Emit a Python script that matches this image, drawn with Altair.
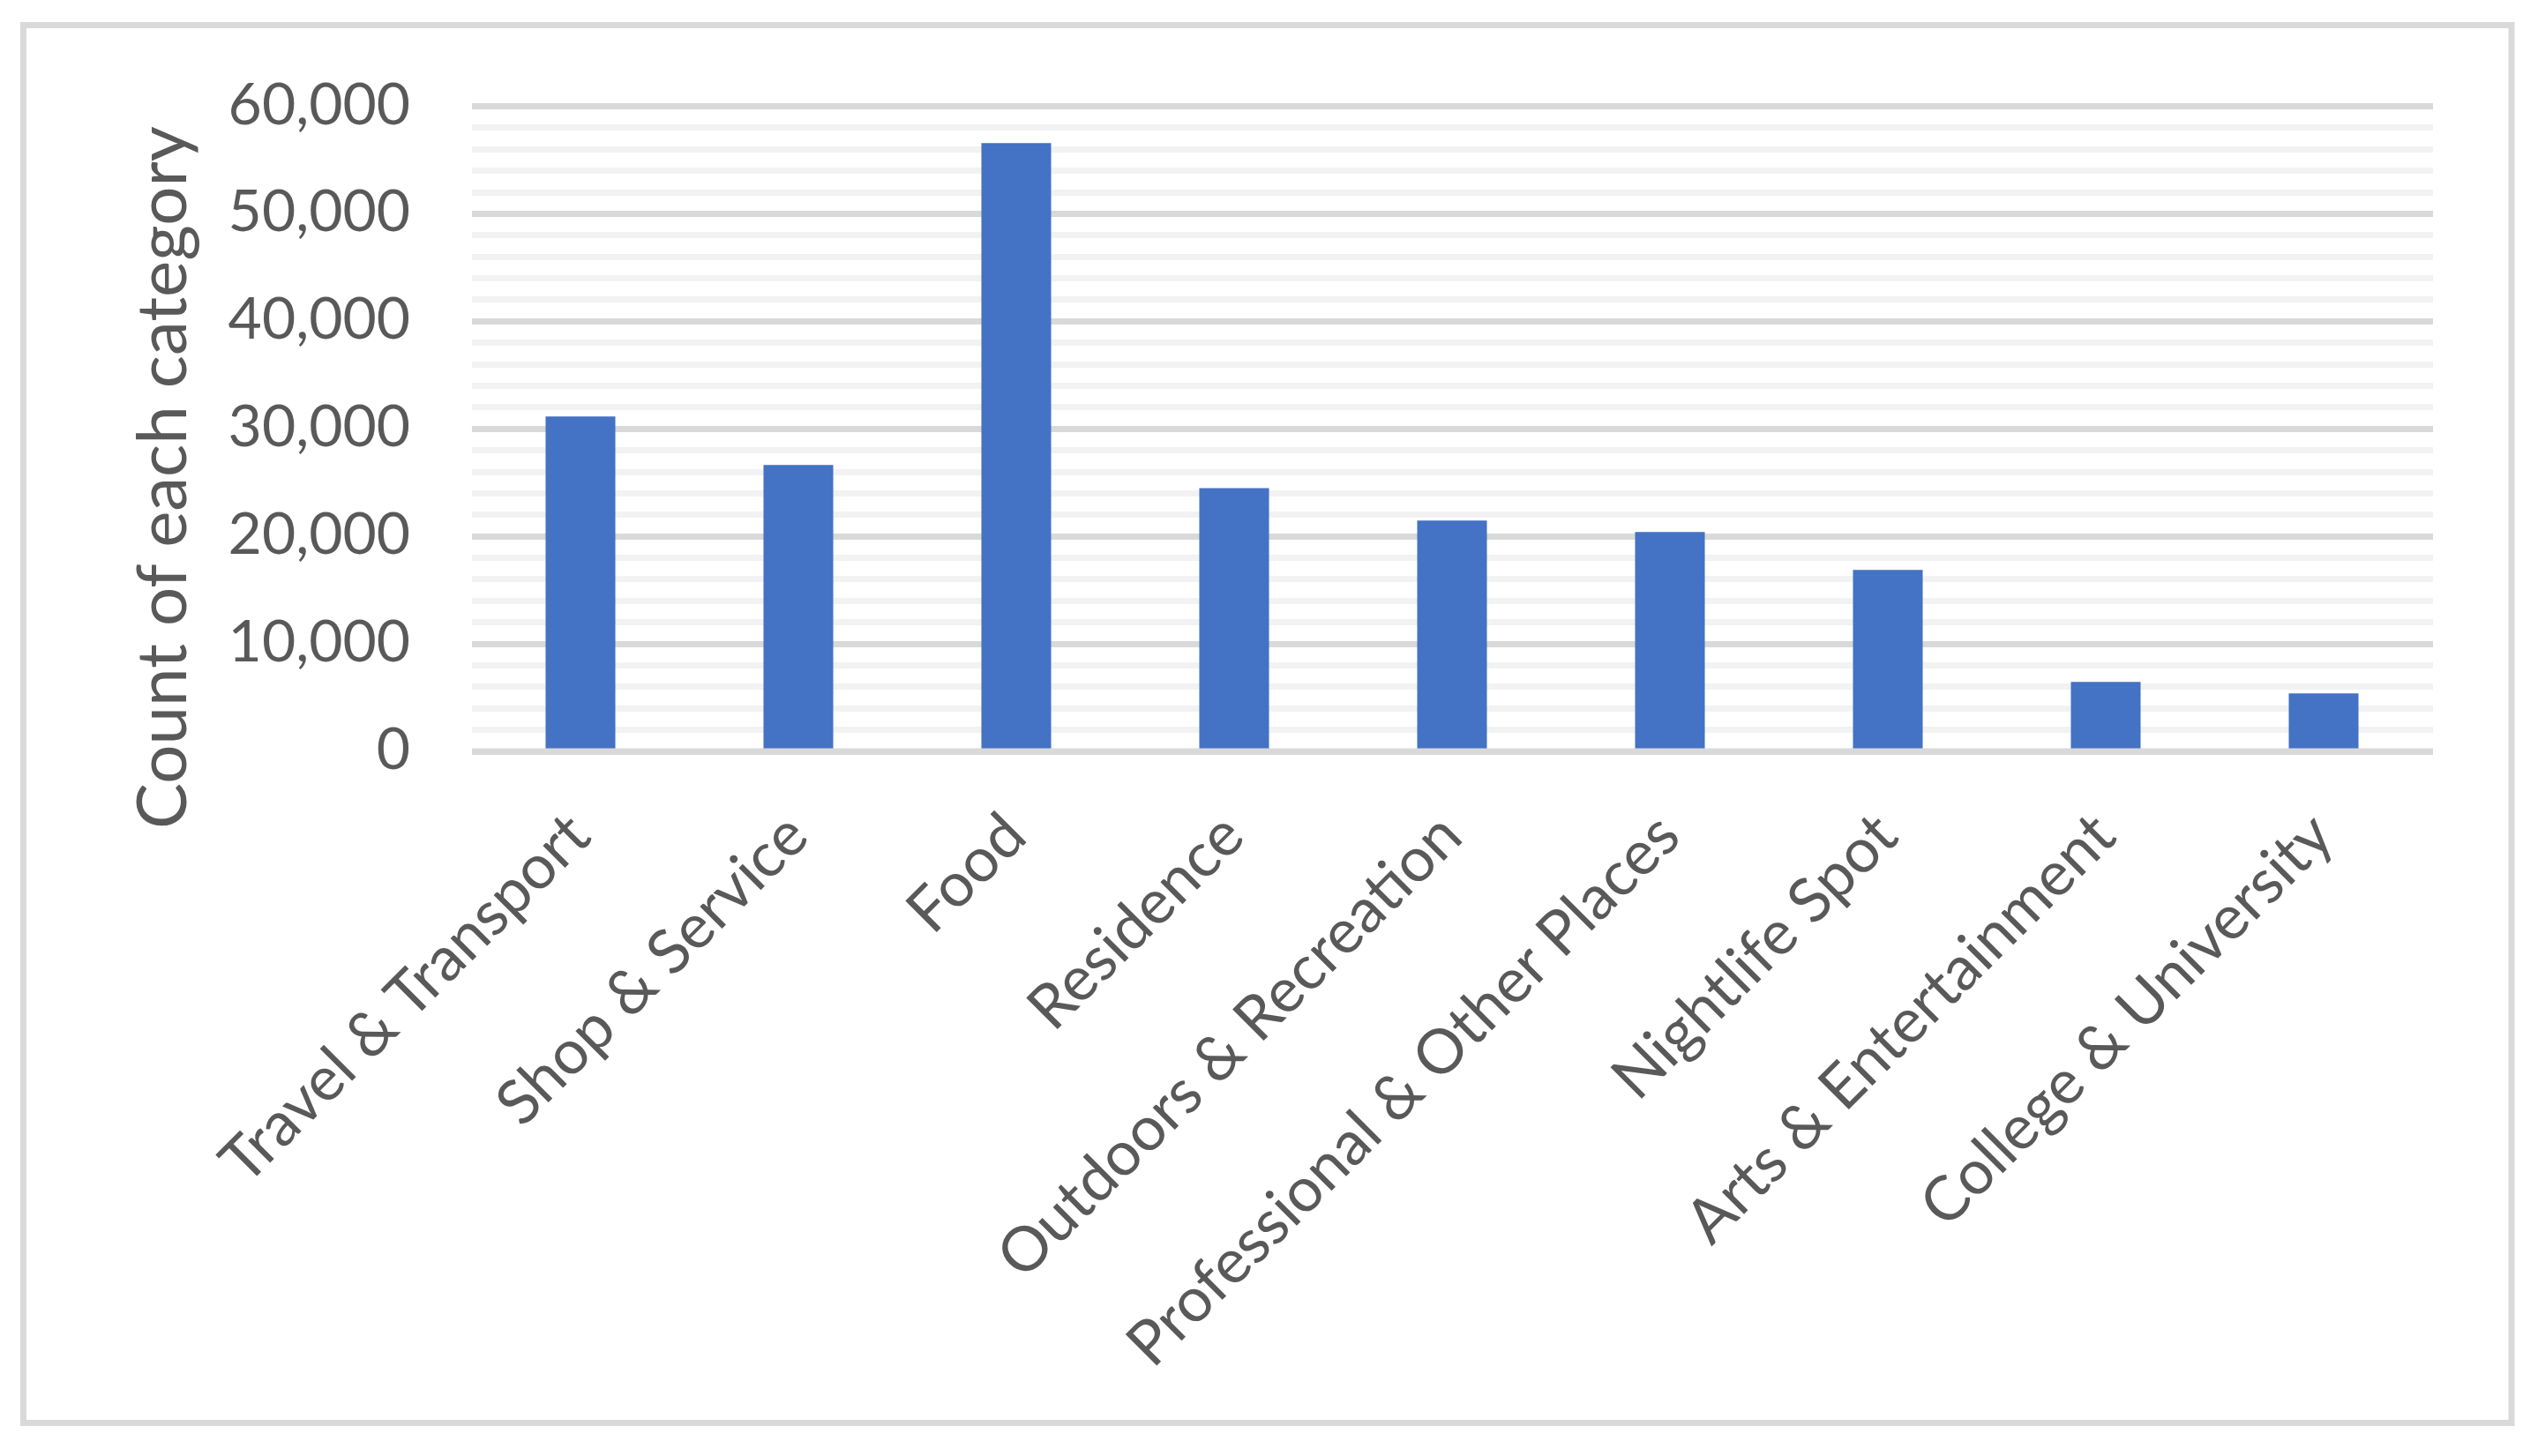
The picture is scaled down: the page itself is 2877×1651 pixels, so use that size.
import altair as alt
import pandas as pd

categories = ["Travel & Transport", "Shop & Service", "Food", "Residence",
              "Outdoors & Recreation", "Professional & Other Places",
              "Nightlife Spot", "Arts & Entertainment", "College & University"]
counts = [31110, 26590, 56530, 24450, 21420, 20360, 16830, 6420, 5360]
y_ticks = list(range(0, 60001, 2000))
y_title = "Count of each category"

df = pd.DataFrame({"category": categories, "count": counts})

FONT = "Lato"
TEXT = "#595959"

bars = alt.Chart(df).mark_bar(color="#4472c4").encode(
    x=alt.X("category:N", sort=categories, title=None,
            scale=alt.Scale(paddingInner=0.68, paddingOuter=0.34),
            axis=alt.Axis(labelAngle=-45, labelAlign="right", labelBaseline="middle",
                          labelPadding=85, labelFontSize=70, labelFont=FONT,
                          labelColor=TEXT, labelLimit=3000, ticks=False,
                          domainColor="#d9d9d9", domainWidth=7, grid=False, zindex=1)),
    y=alt.Y("count:Q", title=y_title,
            scale=alt.Scale(domain=[0, 60000], nice=False, zero=True),
            axis=alt.Axis(values=y_ticks, format=",d",
                          labelExpr="datum.value % 10000 === 0 ? datum.label : ''",
                          gridColor={"condition": {"test": "datum.value % 10000 === 0",
                                                   "value": "#d9d9d9"},
                                     "value": "#f2f2f2"},
                          gridWidth=7, ticks=False, domain=False,
                          labelFontSize=66, labelFont=FONT, labelColor=TEXT,
                          labelPadding=70, labelOverlap=False, labelLimit=1000,
                          titleFontSize=78, titleFont=FONT, titleColor=TEXT,
                          titleFontWeight="normal", titleX=-324, titleY=421,
                          titleBaseline="alphabetic", titleAngle=270)),
)

border = alt.Chart(pd.DataFrame({"b": [0]})).mark_rect(
    fill="white", fillOpacity=0, stroke="#d9d9d9", strokeWidth=7
).encode(
    x=alt.value(-508), x2=alt.value(2312.5),
    y=alt.value(-91.5), y2=alt.value(1493.5),
)

chart = alt.layer(border, bars).properties(
    width=2223, height=731.5,
    padding={"left": 14.5, "top": 17, "right": 10, "bottom": 10},
    background="white",
).configure_view(strokeWidth=0)

chart.save("out.html", embed_options={"renderer": "svg", "actions": False})
